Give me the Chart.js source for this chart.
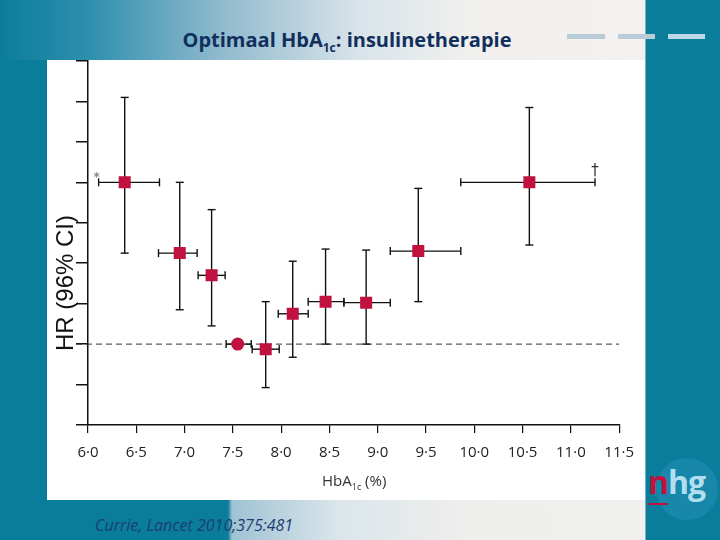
<!DOCTYPE html>
<html>
<head>
<meta charset="utf-8">
<script src="https://cdn.jsdelivr.net/npm/chart.js@4"></script>
<style>
  body { margin: 0; width: 720px; height: 540px; position: relative; overflow: hidden; background: #fff; font-family: "Open Sans", sans-serif; }
  .banner { position: absolute; left: 0; top: 0; width: 645px; height: 60px;
    background: linear-gradient(90deg, #0a7d9b 0px, #2f8fae 90px, #8fbacd 220px, #d9e4ea 360px, #f1f0ee 470px, #f3f1ef 645px); }
  .leftbar { position: absolute; left: 0; top: 60px; width: 47px; height: 440px; background: #0a7d9b; }
  .footer { position: absolute; left: 0; top: 500px; width: 645px; height: 40px;
    background: linear-gradient(90deg, #0a7d9b 0px, #0a7d9b 228px, #9fc2d3 232px, #dbe6eb 340px, #eeeeec 460px, #f1f0ee 645px); }
  .rightbar { position: absolute; left: 645px; top: 0; width: 75px; height: 540px; background: #0a7d9b; border-left: 1px solid #6fb3cc; box-sizing: border-box; }
  .dash { position: absolute; top: 34px; height: 5px; background: #b9ccd8; }
  .title { position: absolute; left: 0; width: 694px; top: 26px; text-align: center; color: #112f5c;
    font-family: "Open Sans", sans-serif; font-weight: bold; font-size: 20px; }
  .title sub, .xtitle sub { font-size: 60%; }
  #wrap { position: absolute; left: 47px; top: 60px; width: 598px; height: 440px; background: #fff; }
  .ytitle { position: absolute; left: 65px; top: 283px; transform: translate(-50%, -50%) rotate(-90deg);
    font-family: "Liberation Sans", sans-serif; font-size: 24px; color: #111; white-space: nowrap; }
  .xtitle { position: absolute; left: 322px; top: 470px; font-family: "Open Sans", sans-serif; font-size: 15px; color: #333; }
  .cite { position: absolute; left: 95px; top: 514px; font-family: "Open Sans", sans-serif; font-style: italic; font-size: 16px; color: #1b3d72; }
  .logo { position: absolute; left: 656px; top: 458px; width: 62px; height: 62px; border-radius: 50%; background: #1787aa; }
  .logotext { position: absolute; left: 648px; top: 460px; font-family: "Open Sans", sans-serif; font-weight: bold; font-size: 32px; letter-spacing: -1px; }
  .logotext .n { color: #c0113f; border-bottom: 2px solid #c0113f; }
  .logotext .hg { color: #b2dff0; }
</style>
</head>
<body>
<div class="banner"></div>
<div class="leftbar"></div>
<div class="footer"></div>
<div class="rightbar"></div>
<div class="dash" style="left:567px;width:38px"></div>
<div class="dash" style="left:618px;width:37px"></div>
<div class="dash" style="left:668px;width:37px;background:#bcd9ea"></div>
<div class="title">Optimaal HbA<sub>1c</sub>: insulinetherapie</div>
<div id="wrap"><canvas id="hba1c-chart" width="598" height="440"></canvas></div>
<div class="ytitle">HR (96% CI)</div>
<div class="xtitle">HbA<sub>1c</sub> (%)</div>
<div class="cite">Currie, Lancet 2010;375:481</div>
<div class="logo"></div>
<div class="logotext"><span class="n">n</span><span class="hg">hg</span></div>

<script>
// waarden
const hba1c     = [6.38, 6.95, 7.28, 7.55, 7.84, 8.12, 8.46, 8.88, 9.42, 10.57];
const hba1cLow  = [6.11, 6.73, 7.14, 7.43, 7.70, 7.97, 8.28, 8.65, 9.13, 9.86];
const hba1cHigh = [6.74, 7.13, 7.42, 7.69, 7.98, 8.28, 8.65, 9.13, 9.86, 11.25];
const hr        = [1.80, 1.45, 1.34, 1.00, 0.975, 1.15, 1.21, 1.205, 1.46, 1.80];
const hrLow     = [1.45, 1.17, 1.09, null, 0.785, 0.935, 1.00, 1.00, 1.21, 1.49];
const hrHigh    = [2.22, 1.80, 1.665, null, 1.21, 1.41, 1.47, 1.465, 1.77, 2.17];
const refIndex = 3;
const refHR = 1;
const notes = [
  { index: 0, text: '*', side: 'low' },
  { index: 9, text: '†', side: 'high' }
];
const xTickLabels = ['6·0', '6·5', '7·0', '7·5', '8·0', '8·5', '9·0', '9·5', '10·0', '10·5', '11·0', '11·5'];

const errorBars = {
  id: 'errorBars',
  beforeDatasetsDraw(chart) {
    const { ctx, chartArea, scales: { x, y } } = chart;
    ctx.save();

    // stippellijn bij HR = 1
    const yRef = y.getPixelForValue(refHR);
    ctx.strokeStyle = '#333';
    ctx.lineWidth = 1;
    ctx.setLineDash([6, 4]);
    ctx.beginPath();
    ctx.moveTo(chartArea.left - 12, yRef);
    ctx.lineTo(chartArea.right, yRef);
    ctx.stroke();
    ctx.setLineDash([]);

    ctx.strokeStyle = '#111';
    ctx.lineWidth = 1.4;
    const line = (x1, y1, x2, y2) => {
      ctx.beginPath();
      ctx.moveTo(x1, y1);
      ctx.lineTo(x2, y2);
      ctx.stroke();
    };
    hba1c.forEach((v, i) => {
      const px = x.getPixelForValue(v);
      const py = y.getPixelForValue(hr[i]);
      const x1 = x.getPixelForValue(hba1cLow[i]);
      const x2 = x.getPixelForValue(hba1cHigh[i]);
      line(x1, py, x2, py);
      line(x1, py - 4, x1, py + 4);
      line(x2, py - 4, x2, py + 4);
      if (hrLow[i] != null) {
        const y1 = y.getPixelForValue(hrLow[i]);
        const y2 = y.getPixelForValue(hrHigh[i]);
        line(px, y1, px, y2);
        line(px - 4, y1, px + 4, y1);
        line(px - 4, y2, px + 4, y2);
      }
    });
    ctx.restore();
  },
  afterDatasetsDraw(chart) {
    const { ctx, scales: { x, y } } = chart;
    ctx.save();
    ctx.textAlign = 'center';
    notes.forEach(n => {
      const i = n.index;
      const px = x.getPixelForValue(n.side === 'low' ? hba1cLow[i] : hba1cHigh[i]);
      const py = y.getPixelForValue(hr[i]);
      ctx.fillStyle = n.side === 'low' ? '#888' : '#333';
      ctx.font = n.side === 'low' ? 'bold 12px "DejaVu Sans"' : '15px "DejaVu Sans"';
      ctx.fillText(n.text, px - (n.side === 'low' ? 2 : 0), py - (n.side === 'low' ? 1 : 7));
    });
    ctx.restore();
  }
};

function renderChart() {
  const ctx = document.getElementById('hba1c-chart').getContext('2d');
  new Chart(ctx, {
    type: 'scatter',
    data: {
      datasets: [{
        data: hba1c.map((v, i) => ({ x: v, y: hr[i] })),
        backgroundColor: '#c0113f',
        borderWidth: 0,
        pointStyle: (c) => c.dataIndex === refIndex ? 'circle' : 'rect',
        pointRadius: (c) => c.dataIndex === refIndex ? 6.5 : 8.5,
        pointHoverRadius: (c) => c.dataIndex === refIndex ? 6.5 : 8.5
      }]
    },
    options: {
      responsive: false,
      devicePixelRatio: 1,
      animation: false,
      layout: { autoPadding: false, padding: { top: 1, right: 23, left: 0, bottom: 0 } },
      plugins: { legend: { display: false }, tooltip: { enabled: false } },
      scales: {
        x: {
          type: 'linear',
          min: 6,
          max: 11.5,
          afterFit: (s) => { s.height = 75; },
          grid: { drawOnChartArea: false, color: '#111', lineWidth: 1.2, tickLength: 8 },
          border: { color: '#111', width: 1.5 },
          ticks: {
            stepSize: 0.5,
            autoSkip: false,
            maxRotation: 0,
            padding: 11,
            color: '#222',
            font: { family: '"Open Sans"', size: 15 },
            callback: (v, i) => xTickLabels[i]
          }
        },
        y: {
          min: 0.6,
          max: 2.4,
          afterFit: (s) => { s.width = 41; },
          grid: { drawOnChartArea: false, color: '#111', lineWidth: 1.5, tickLength: 12 },
          border: { color: '#111', width: 1.5 },
          ticks: { stepSize: 0.2, display: false }
        }
      }
    },
    plugins: [errorBars]
  });
}

renderChart();
</script>
</body>
</html>
